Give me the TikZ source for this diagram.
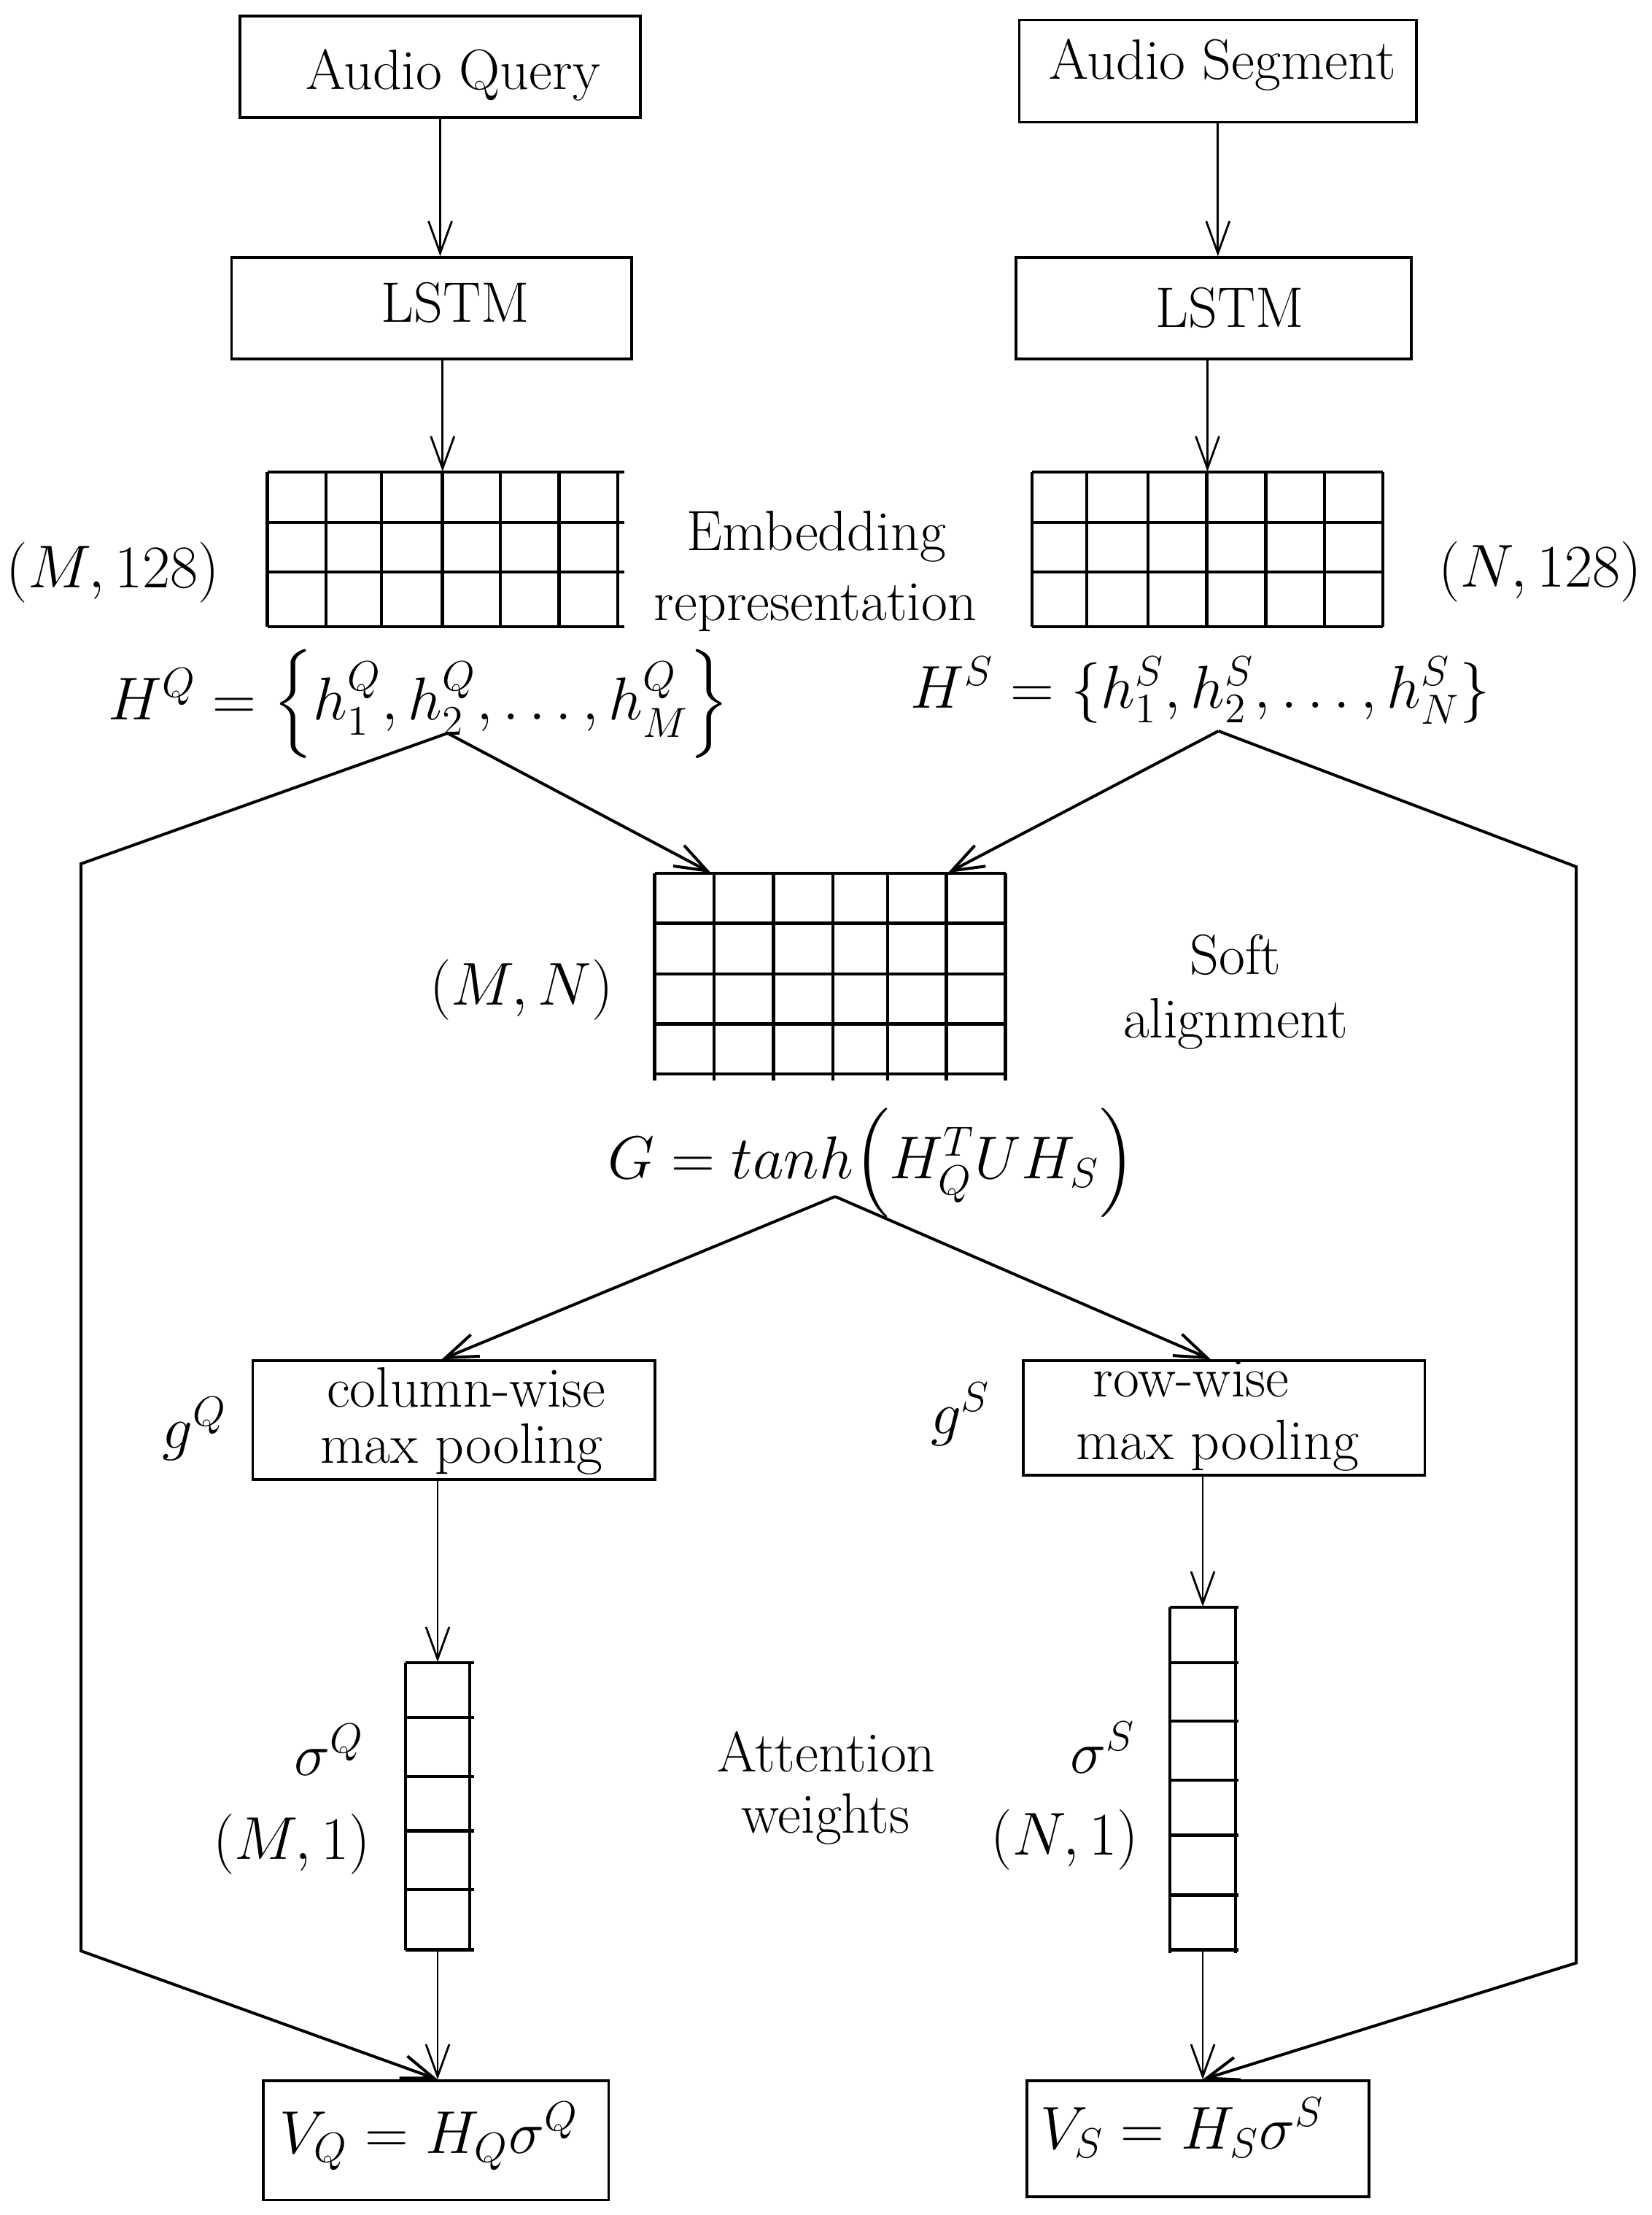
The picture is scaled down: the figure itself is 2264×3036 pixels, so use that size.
\documentclass[tikz,border=0pt]{standalone}
\usepackage{amsmath}
\usetikzlibrary{arrows.meta,calc}
\begin{document}
\begin{tikzpicture}[x=0.25pt,y=-0.25pt]
\tikzset{
  box/.style={draw, line width=0.9pt, inner sep=0pt},
  area/.style={inner sep=0pt},
  lbl/.style={anchor=base, inner sep=0pt, font=\fontsize{19.5}{23}\selectfont},
  arr/.style={-{Straight Barb[length=11pt,width=8pt]}, line width=0.7pt},
  darr/.style={-{Straight Barb[length=11pt,width=8pt]}, line width=1pt, line join=miter},
  gline/.style={line width=1.15pt},
}
\useasboundingbox (0,0) rectangle (2264,3036);

% boxes
\node[box, minimum width=137.25pt, minimum height=34.75pt] (aq) at (603.5,91.5) {};
\node[box, minimum width=136.1pt, minimum height=35pt] (as) at (1669.8,97.5) {};
\node[box, minimum width=137.1pt, minimum height=34.75pt] (lstmL) at (591.8,422.5) {};
\node[box, minimum width=135.5pt, minimum height=34.75pt] (lstmR) at (1664,422.5) {};
\node[box, minimum width=137.9pt, minimum height=40.75pt] (colbox) at (622.25,1946.5) {};
\node[box, minimum width=137.6pt, minimum height=39.25pt] (rowbox) at (1678.25,1943.5) {};
\node[box, minimum width=118.4pt, minimum height=40.9pt] (vq) at (597.75,2933.75) {};
\node[box, minimum width=117.25pt, minimum height=39.75pt] (vs) at (1642.5,2931.5) {};

% grid areas
\node[area, minimum width=120.1pt, minimum height=53pt] (gridL) at (606.8,753) {};
\node[area, minimum width=120.25pt, minimum height=53pt] (gridR) at (1655.5,753) {};
\node[area, minimum width=120.25pt, minimum height=68.75pt] (al) at (1138.1,1334.5) {};
\node[area, minimum width=22pt, minimum height=98.45pt] (sq) at (600,2475.7) {};
\node[area, minimum width=22.5pt, minimum height=117.45pt] (ss) at (1649,2437.7) {};

% grid lines
\foreach \x in {366.6,447,523,606.6,686,766.5,847} \draw[gline] (\x,647) -- (\x,859);
\foreach \y in {647,716,784,859} \draw[gline] (366.6,\y) -- (856,\y);
\foreach \x in {1415,1490,1574,1654.6,1735.5,1816,1896} \draw[gline] (\x,647) -- (\x,859);
\foreach \y in {647,716,784,859} \draw[gline] (1415,\y) -- (1896,\y);
\foreach \x in {897.6,979,1060.6,1142,1217,1297.7,1378.6} \draw[gline] (\x,1197) -- (\x,1481);
\foreach \y in {1197,1265.6,1334.8,1403.7,1472} \draw[gline] (897.6,\y) -- (1378.6,\y);
\foreach \x in {556,644} \draw[gline] (\x,2278.8) -- (\x,2672.6);
\foreach \y in {2278.8,2354,2434.8,2509.4,2590,2672.6} \draw[gline] (556,\y) -- (650,\y);
\foreach \x in {1604,1694} \draw[gline] (\x,2202.8) -- (\x,2677);
\foreach \y in {2202.8,2278.8,2358.8,2440,2515.4,2597.3,2672.6} \draw[gline] (1604,\y) -- (1698,\y);

% coordinates
\coordinate (apexQ) at (613.6,1005);
\coordinate (cQa) at (111,1184);
\coordinate (cQb) at (111,2674);
\coordinate (apexS) at (1670.5,1002);
\coordinate (cSa) at (2161,1188);
\coordinate (cSb) at (2161,2690.5);
\coordinate (apexG) at (1145,1640);

% vertical arrows
\draw[arr] (aq.south) -- (aq.south |- lstmL.north);
\draw[arr] (as.south) -- (as.south |- lstmR.north);
\draw[arr] (lstmL.south -| gridL.north) -- (gridL.north);
\draw[arr] (lstmR.south -| gridR.north) -- (gridR.north);
\draw[arr] (sq.north |- colbox.south) -- (sq.north);
\draw[arr] (ss.north |- rowbox.south) -- (ss.north);
\draw[arr] (sq.south) -- (sq.south |- vq.north);
\draw[arr] (ss.south) -- (ss.south |- vs.north);

% diagonal arrows
\draw[darr] (apexQ) -- ($(al.north west)!0.161!(al.north east)$);
\draw[darr] (apexS) -- ($(al.north west)!0.835!(al.north east)$);
\draw[darr] (apexQ) -- (cQa) -- (cQb) -- (sq.south |- vq.north);
\draw[darr] (apexS) -- (cSa) -- (cSb) -- (ss.south |- vs.north);
\draw[darr] (apexG) -- ($(colbox.north west)!0.47!(colbox.north east)$);
\draw[darr] (apexG) -- ($(rowbox.north west)!0.467!(rowbox.north east)$);

% texts
\node[lbl] (tAQ) at (621,123) {Audio Query};
\node[lbl] (tAS) at (1676,109) {Audio Segment};
\node[lbl] (tL1) at (624,442) {LSTM};
\node[lbl] (tL2) at (1686,449) {LSTM};
\node[lbl] (dimML) at (155,806) {$(M,128)$};
\node[lbl] (dimNR) at (2112,804) {$(N,128)$};
\node[lbl] (emb1) at (1119,755) {Embedding};
\node[lbl] (emb2) at (1118,850) {representation};
\node[lbl] (HQ) at (574,986) {$H^Q = \Big\{h_1^Q, h_2^Q, \ldots, h_M^Q\Big\}$};
\node[lbl] (HS) at (1646,970) {$H^S = \{h_1^S, h_2^S, \ldots, h_N^S\}$};
\node[lbl] (dimMN) at (715,1377) {$(M,N)$};
\node[lbl] (soft1) at (1694,1335) {Soft};
\node[lbl] (soft2) at (1694,1422.6) {alignment};
\node[lbl] (Gf) at (1195,1615) {$G = tanh\Big(H_Q^T U H_S\Big)$};
\node[lbl] (cw1) at (639,1928) {column-wise};
\node[lbl] (cw2) at (633,2005) {max pooling};
\node[lbl] (rw1) at (1633,1914) {row-wise};
\node[lbl] (rw2) at (1669,2000) {max pooling};
\node[lbl] (gQ) at (267,1985) {$g^Q$};
\node[lbl] (gS) at (1317,1965) {$g^S$};
\node[lbl] (sigQ) at (451,2433) {$\sigma^Q$};
\node[lbl] (dimM1) at (400,2548) {$(M,1)$};
\node[lbl] (att1) at (1133,2428) {Attention};
\node[lbl] (att2) at (1132,2512) {weights};
\node[lbl] (sigS) at (1512,2430) {$\sigma^S$};
\node[lbl] (dimN1) at (1460,2542) {$(N,1)$};
\node[lbl] (vqt) at (588,2951) {$V_Q = H_Q\sigma^Q$};
\node[lbl] (vst) at (1621,2945) {$V_S = H_S\sigma^S$};
\end{tikzpicture}
\end{document}
